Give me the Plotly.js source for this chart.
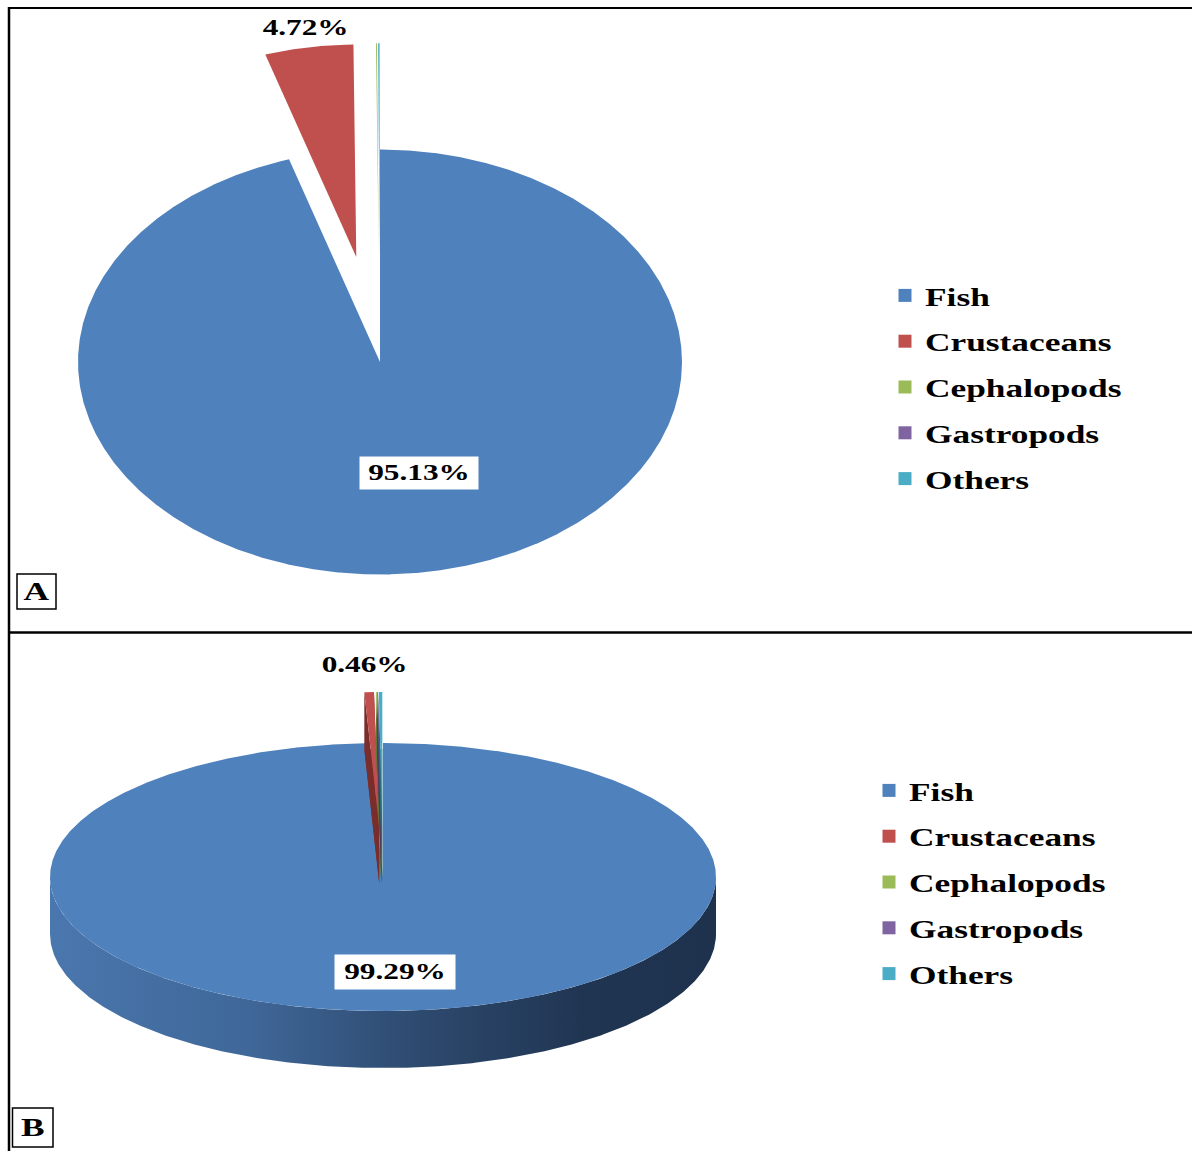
<!DOCTYPE html>
<html>
<head>
<meta charset="utf-8">
<script src="https://cdn.plot.ly/plotly-3.0.1.min.js"></script>
<style>
html,body{margin:0;padding:0;background:#fff;}
#chart{width:1192px;height:1151px;}
</style>
</head>
<body>
<div id="chart"></div>
<script>
// ---------- data ----------
const categories = ['Fish', 'Crustaceans', 'Cephalopods', 'Gastropods', 'Others'];
const valuesA = [95.13, 4.72, 0.05, 0.02, 0.08];   // panel A, percent
const valuesB = [99.29, 0.46, 0.04, 0.04, 0.17];   // panel B, percent
const labelledA = [0, 1];                          // slices with a data label
const labelledB = [0, 1];
const panelNames = ['A', 'B'];

// ---------- styles / geometry ----------
const colors = ['#4F81BD', '#C0504D', '#9BBB59', '#8064A2', '#4BACC6'];
const darkColors = ['#2C4A6E', '#7A2E2C', '#5E7534', '#4C3B63', '#2C6D80'];
const geomA = {cx: 380, cy: 362, rx: 302, ry: 212.5, explode: [0, 0.5, 0.5, 0.5, 0.5], depth: 0};
const geomB = {cx: 383, cy: 877, rx: 333, ry: 134, explode: [0, 0.38, 0.38, 0.38, 0.38], depth: 57};
const FONT = 'Liberation Serif, Times New Roman, serif';
const STRETCH = 1.36;

function pt(g, ox, oy, deg, dy) {
  const t = deg * Math.PI / 180;
  return [ox + g.rx * Math.sin(t), oy - g.ry * Math.cos(t) + (dy || 0)];
}
function sliceAngles(vals) {
  const tot = vals.reduce((a, b) => a + b, 0);
  let acc = 0;
  return vals.map(v => { const a0 = acc / tot * 360; acc += v; return [a0, acc / tot * 360]; });
}
function sector(g, a0, a1, f, dy) {
  const mid = (a0 + a1) / 2 * Math.PI / 180;
  const ox = g.cx + f * g.rx * Math.sin(mid), oy = g.cy - f * g.ry * Math.cos(mid) + (dy || 0);
  const xs = [ox], ys = [oy];
  const n = Math.max(2, Math.ceil((a1 - a0) / 0.25));
  for (let i = 0; i <= n; i++) {
    const p = pt(g, ox, oy, a0 + (a1 - a0) * i / n);
    xs.push(p[0]); ys.push(p[1]);
  }
  xs.push(ox); ys.push(oy);
  return {xs, ys, ox, oy};
}
function fillTrace(xs, ys, color, extra) {
  return Object.assign({type: 'scatter', mode: 'lines', x: xs, y: ys, fill: 'toself',
    fillcolor: color, line: {width: 0, color: color}, hoverinfo: 'skip', showlegend: false}, extra || {});
}

const traces = [];
function buildPie(vals, g) {
  const ang = sliceAngles(vals);
  if (g.depth > 0) {
    const xs = [], ys = [];
    for (let a = 90; a <= 270; a += 0.5) { const p = pt(g, g.cx, g.cy, a); xs.push(p[0]); ys.push(p[1]); }
    for (let a = 270; a >= 90; a -= 0.5) { const p = pt(g, g.cx, g.cy, a, g.depth); xs.push(p[0]); ys.push(p[1]); }
    traces.push(fillTrace(xs, ys, '#3A5F8C', {
      fillgradient: {type: 'horizontal', colorscale: [[0, '#4A77AE'], [0.3, '#3F6798'], [0.55, '#2E4A6F'], [0.8, '#203552'], [1, '#1E324E']]}
    }));
  }
  vals.forEach((v, i) => {
    const [a0, a1] = ang[i];
    const f = g.explode[i];
    if (g.depth > 0 && f > 0) {
      const top = sector(g, a0, a1, f, 0);
      const bot = sector(g, a0, a1, f, g.depth);
      traces.push(fillTrace(bot.xs, bot.ys, darkColors[i]));
      const pa = pt(g, top.ox, top.oy, a0), pb = pt(g, top.ox, top.oy, a1);
      traces.push(fillTrace([top.ox, pa[0], pa[0], top.ox, top.ox], [top.oy, pa[1], pa[1] + g.depth, top.oy + g.depth, top.oy], darkColors[i]));
      traces.push(fillTrace([top.ox, pb[0], pb[0], top.ox, top.ox], [top.oy, pb[1], pb[1] + g.depth, top.oy + g.depth, top.oy], darkColors[i]));
    }
    const s = sector(g, a0, a1, f, 0);
    traces.push(fillTrace(s.xs, s.ys, colors[i]));
  });
}
buildPie(valuesA, geomA);
buildPie(valuesB, geomB);

// legend entries
['legend', 'legend2'].forEach(lg => {
  categories.forEach((c, i) => {
    traces.push({type: 'scatter', mode: 'markers', x: [null], y: [null], name: c,
      marker: {symbol: 'square', size: 13, color: colors[i]},
      legend: lg, legendgroup: lg + i, showlegend: true, hoverinfo: 'skip'});
  });
});

const pct = v => v.toFixed(2) + '%';
const annotations = [
  {x: 305, y: 27, text: pct(valuesA[labelledA[1]]), showarrow: false, font: {family: FONT, size: 23, color: '#000', weight: 'bold'}},
  {x: 419, y: 473, text: pct(valuesA[labelledA[0]]), showarrow: false, bgcolor: '#fff', width: 114, height: 28, borderpad: 2,
    font: {family: FONT, size: 23, color: '#000', weight: 'bold'}},
  {x: 364, y: 664, text: pct(valuesB[labelledB[1]]), showarrow: false, font: {family: FONT, size: 23, color: '#000', weight: 'bold'}},
  {x: 395, y: 972, text: pct(valuesB[labelledB[0]]), showarrow: false, bgcolor: '#fff', width: 116, height: 30, borderpad: 2,
    font: {family: FONT, size: 23, color: '#000', weight: 'bold'}},
  {x: 36.5, y: 591.5, text: panelNames[0], showarrow: false, font: {family: FONT, size: 26, color: '#000', weight: 'bold'}},
  {x: 32.5, y: 1127.5, text: panelNames[1], showarrow: false, font: {family: FONT, size: 26, color: '#000', weight: 'bold'}}
].map(a => Object.assign({xref: 'x', yref: 'y', xanchor: 'center', yanchor: 'middle'}, a));

const shapes = [
  {type: 'line', xref: 'x', yref: 'y', x0: 8, x1: 1192, y0: 8, y1: 8, line: {color: '#000', width: 2}},
  {type: 'line', xref: 'x', yref: 'y', x0: 9, x1: 9, y0: 7, y1: 1151, line: {color: '#000', width: 2.5}},
  {type: 'line', xref: 'x', yref: 'y', x0: 9, x1: 1192, y0: 632.5, y1: 632.5, line: {color: '#000', width: 2.5}},
  {type: 'rect', xref: 'x', yref: 'y', x0: 17, x1: 56, y0: 574, y1: 609, line: {color: '#000', width: 1.5}},
  {type: 'rect', xref: 'x', yref: 'y', x0: 12.5, x1: 53, y0: 1108, y1: 1147, line: {color: '#000', width: 1.5}}
];

const legendFont = {family: FONT, size: 26, color: '#000', weight: 'bold'};
const layout = {
  width: 1192, height: 1151,
  margin: {l: 0, r: 0, t: 0, b: 0},
  paper_bgcolor: '#fff', plot_bgcolor: '#fff',
  xaxis: {range: [0, 1192], visible: false, fixedrange: true},
  yaxis: {range: [1151, 0], visible: false, fixedrange: true},
  showlegend: true,
  legend: {x: 885 / 1192, y: 1 - 272 / 1151, xanchor: 'left', yanchor: 'top', font: legendFont,
    tracegroupgap: 9, bgcolor: 'rgba(0,0,0,0)', borderwidth: 0},
  legend2: {x: 869 / 1192, y: 1 - 767 / 1151, xanchor: 'left', yanchor: 'top', font: legendFont,
    tracegroupgap: 9, bgcolor: 'rgba(0,0,0,0)', borderwidth: 0},
  annotations: annotations,
  shapes: shapes
};

Plotly.newPlot('chart', traces, layout, {displayModeBar: false, staticPlot: true}).then(gd => {
  // the reference's lettering is horizontally stretched
  const legendTexts = gd.querySelectorAll('.infolayer g[class^="legend"] text');
  legendTexts.forEach(t => {
    t.style.transformBox = 'fill-box';
    t.style.transformOrigin = 'left center';
    t.style.transform = 'scaleX(' + STRETCH + ')';
  });
  gd.querySelectorAll('text.annotation-text').forEach(t => {
    t.style.transformBox = 'fill-box';
    t.style.transformOrigin = 'center center';
    t.style.transform = 'scaleX(' + STRETCH + ')';
  });
  // let the widened legend text show in full
  gd.querySelectorAll('.infolayer g[class^="legend"] [clip-path]').forEach(el => el.removeAttribute('clip-path'));
  gd.querySelectorAll('.infolayer g[class^="legend"]').forEach(el => el.removeAttribute('clip-path'));
});
</script>
</body>
</html>
